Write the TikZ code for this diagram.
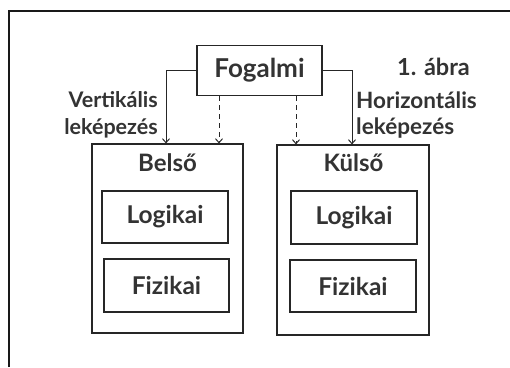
\documentclass[tikz,border=0pt]{standalone}
\usepackage{fontspec}
\setmainfont{Lato}
\usetikzlibrary{arrows.meta}
\begin{document}
\begin{tikzpicture}[x=1pt,y=-1pt,
  box/.style={draw=black!85,line width=1.1pt,inner sep=0pt},
  lbl/.style={font=\fontsize{21.5}{26}\bfseries\selectfont,text=black!80,inner sep=0pt},
  inner/.style={box,lbl,font=\fontsize{24.5}{28}\bfseries\selectfont},
  head/.style={lbl,font=\fontsize{24}{28}\bfseries\selectfont},
  arr/.style={draw=black!85,line width=1pt,-{Straight Barb[length=4pt,width=7pt]}},
  dsh/.style={dash pattern=on 5pt off 4pt},
  frame/.style={draw=black!90,line width=1.6pt}]
\useasboundingbox (0,0) rectangle (510,367);
\draw[frame] (9,367) -- (9,11) -- (510,11);
% boxes
\node[box,minimum width=125pt,minimum height=50pt,font=\fontsize{26}{30}\bfseries\selectfont,text=black!80] (fog) at (259.5,70.5) {Fogalmi};
\node[box,minimum width=151pt,minimum height=189pt] (belso) at (167.5,238.5) {};
\node[box,minimum width=152pt,minimum height=190pt] (kulso) at (353,240) {};
\node[head] (belsot) at (167.5,163) {Belső};
\node[head] (kulsot) at (353.5,163) {Külső};
\node[inner,minimum width=126pt,minimum height=52pt] (logl) at (165,217) {Logikai};
\node[inner,minimum width=125pt,minimum height=53pt] (fizl) at (166.5,285.5) {Fizikai};
\node[inner,minimum width=126pt,minimum height=53pt] (logr) at (354,217.5) {Logikai};
\node[inner,minimum width=126pt,minimum height=52pt] (fizr) at (353,286) {Fizikai};
% labels
\node[lbl,anchor=east] (vert) at (158,100) {Vertikális};
\node[lbl,anchor=east] (vlek) at (158,128) {leképezés};
\node[lbl,anchor=west,font=\fontsize{22.5}{26}\bfseries\selectfont] (hor) at (356,100) {Horizontális};
\node[lbl,anchor=west,font=\fontsize{22.5}{26}\bfseries\selectfont] (hlek) at (356,128) {leképezés};
\node[lbl,anchor=east,font=\fontsize{23.5}{26}\bfseries\selectfont] (abra) at (470,67) {1. ábra};
% connectors
\coordinate (vl) at (166,0);
\coordinate (hl) at (352,0);
\coordinate (d1) at (219,0);
\coordinate (d2) at (296,0);
\draw[arr] (fog.west) -| (belso.north -| vl);
\draw[arr] (fog.east) -| (kulso.north -| hl);
\draw[arr,dsh] (fog.south -| d1) -- (belso.north -| d1);
\draw[arr,dsh] (fog.south -| d2) -- (kulso.north -| d2);
\end{tikzpicture}
\end{document}
